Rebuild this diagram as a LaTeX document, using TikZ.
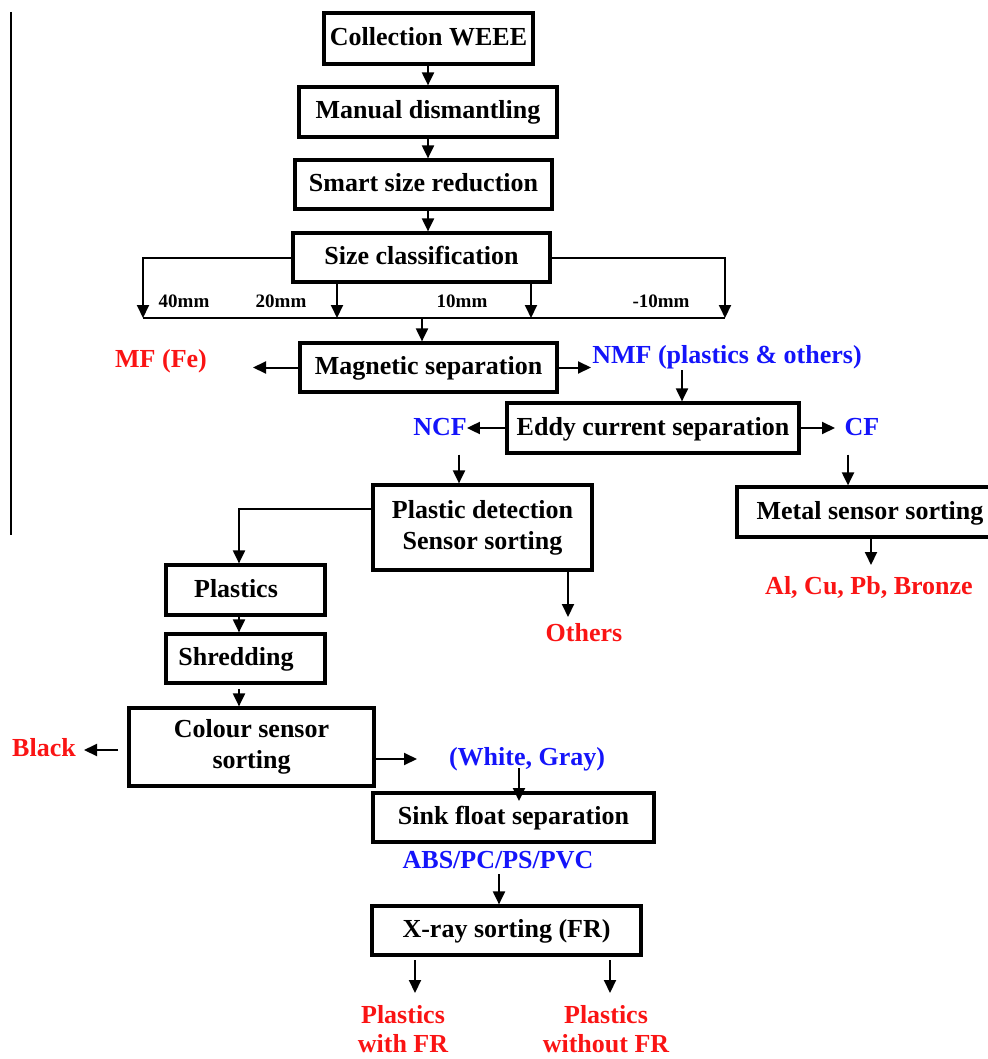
\documentclass[tikz,border=0pt]{standalone}
\usepackage{fontspec}
\setmainfont{Liberation Serif}
\usetikzlibrary{arrows.meta}
\definecolor{lred}{RGB}{250,20,20}
\definecolor{lblue}{RGB}{20,20,250}
\begin{document}
\begin{tikzpicture}[x=1pt,y=-1pt,
  every node/.style={font=\fontsize{26}{31}\selectfont\bfseries},
  one/.style={text height=19.5pt, text depth=5.5pt},
  box/.style={draw, line width=3.2pt, inner sep=0pt, align=center},
  lbl/.style={inner sep=0pt, align=center},
  redlbl/.style={lbl, text=lred},
  bluelbl/.style={lbl, text=lblue},
  mm/.style={lbl, font=\fontsize{19}{22}\selectfont\bfseries, text height=14pt, text depth=1pt},
  arr/.style={line width=2pt, -{Triangle[length=13pt,width=12pt]}},
  conn/.style={line width=2pt}]
\useasboundingbox (0,0) rectangle (987,1059);
\draw[line width=1.6pt] (11,12) -- (11,535);

% main chain
\node[box, one, minimum width=209pt, minimum height=51pt] (c1) at (428.5,38.5) {Collection WEEE};
\node[box, one, minimum width=258pt, minimum height=50pt] (c2) at (428,112) {Manual dismantling};
\node[box, one, minimum width=257pt, minimum height=49pt] (c3) at (423.5,184.5) {Smart size reduction};
\node[box, one, minimum width=257pt, minimum height=49pt] (c4) at (421.5,257.5) {Size classification};
\coordinate (ax) at (428,0);
\draw[arr] (ax |- c1.south) -- (ax |- c2.north);
\draw[arr] (ax |- c2.south) -- (ax |- c3.north);
\draw[arr] (ax |- c3.south) -- (ax |- c4.north);

% size classification bus
\coordinate (busL) at (143,318);
\coordinate (busR) at (725,318);
\coordinate (b20) at (337,318);
\coordinate (b10) at (531,318);
\coordinate (b0) at (422,318);
\draw[conn] (busL) -- (busR);
\draw[arr] (c4.west) -| (busL);
\draw[arr] (c4.east) -| (busR);
\draw[arr] (b20 |- c4.south) -- (b20);
\draw[arr] (b10 |- c4.south) -- (b10);
\node[mm] (l40) at (184,301) {40mm};
\node[mm] (l20) at (281,301) {20mm};
\node[mm] (l10) at (462,301) {10mm};
\node[mm] (lm10) at (661,301) {-10mm};

% magnetic
\node[box, one, minimum width=257pt, minimum height=49pt] (m) at (428.5,367.5) {Magnetic separation};
\draw[arr] (b0) -- (b0 |- m.north);
\node[redlbl, one] (mf) at (161,360) {MF (Fe)};
\coordinate (mfTip) at (253,367.5);
\draw[arr] (m.west) -- (mfTip);
\node[bluelbl, one] (nmf) at (727,356) {NMF (plastics \& others)};
\coordinate (nmfTip) at (591,367.5);
\draw[arr] (m.east) -- (nmfTip);
\coordinate (nmfDrop) at (682,370);

% eddy current
\node[box, one, minimum width=292pt, minimum height=50pt] (e) at (653,428) {Eddy current separation};
\draw[arr] (nmfDrop) -- (nmfDrop |- e.north);
\node[bluelbl, one] (ncf) at (440,428) {NCF};
\draw[arr] (e.west) -- (ncf.east);
\node[bluelbl, one] (cf) at (862,428) {CF};
\coordinate (cfTip) at (835,428);
\draw[arr] (e.east) -- (cfTip);

% plastic detection
\node[box, minimum width=219pt, minimum height=85pt] (p) at (482.5,527.5) {Plastic detection\\Sensor sorting};
\coordinate (ncfx) at (459,0);
\draw[arr] (ncfx |- e.south) -- (ncfx |- p.north);

% metal sensor
\node[box, one, minimum width=266pt, minimum height=50pt] (ms) at (870,512) {Metal sensor sorting};
\coordinate (cfx) at (848,0);
\draw[arr] (cfx |- e.south) -- (cfx |- ms.north);
\node[redlbl, one] (al) at (869,587) {Al, Cu, Pb, Bronze};
\coordinate (msx) at (871,565);
\draw[arr] (msx |- ms.south) -- (msx);

% others
\node[redlbl, one] (oth) at (584,634) {Others};
\coordinate (othTop) at (568,617);
\draw[arr] (othTop |- p.south) -- (othTop);

% plastics chain
\node[box, one, minimum width=159pt, minimum height=50pt] (pl) at (245.5,590) {\hspace*{-19pt}Plastics};
\node[box, one, minimum width=159pt, minimum height=49pt] (sh) at (245.5,658.5) {\hspace*{-19pt}Shredding};
\coordinate (pOut) at (373,509);
\coordinate (plx) at (239,0);
\draw[arr] (pOut) -| (plx |- pl.north);
\draw[arr] (plx |- pl.south) -- (plx |- sh.north);

\node[box, minimum width=245pt, minimum height=78pt] (col) at (251.5,747) {Colour sensor\\sorting};
\coordinate (shOut) at (239,689);
\draw[arr] (shOut) -- (plx |- col.north);

\node[redlbl, one] (blk) at (44,749) {Black};
\coordinate (blkFrom) at (118,750);
\coordinate (blkTip) at (84,750);
\draw[arr] (blkFrom) -- (blkTip);

\coordinate (colOut) at (374,759);
\coordinate (colTip) at (417,759);
\draw[arr] (colOut) -- (colTip);
\node[bluelbl, one] (wg) at (527,758) {(White, Gray)};

\node[box, one, minimum width=281pt, minimum height=49pt] (sf) at (513.5,817.5) {Sink float separation};
\coordinate (wgDrop) at (519,768);
\coordinate (sfIn) at (519,801);
\draw[arr] (wgDrop) -- (sfIn);

\node[bluelbl, one] (abs) at (498,861) {ABS/PC/PS/PVC};
\node[box, one, minimum width=269pt, minimum height=49pt] (xr) at (506.5,930.5) {X-ray sorting (FR)};
\coordinate (absDrop) at (499,874);
\draw[arr] (absDrop) -- (absDrop |- xr.north);

\coordinate (x1) at (415,993);
\coordinate (x2) at (610,993);
\coordinate (xs) at (0,960);
\draw[arr] (x1 |- xs) -- (x1);
\draw[arr] (x2 |- xs) -- (x2);
\node[redlbl, anchor=south, font=\fontsize{26}{29}\selectfont\bfseries] (pw) at (403,1053) {Plastics\\with FR};
\node[redlbl, anchor=south, font=\fontsize{26}{29}\selectfont\bfseries] (pwo) at (606,1053) {Plastics\\without FR};
\end{tikzpicture}
\end{document}
